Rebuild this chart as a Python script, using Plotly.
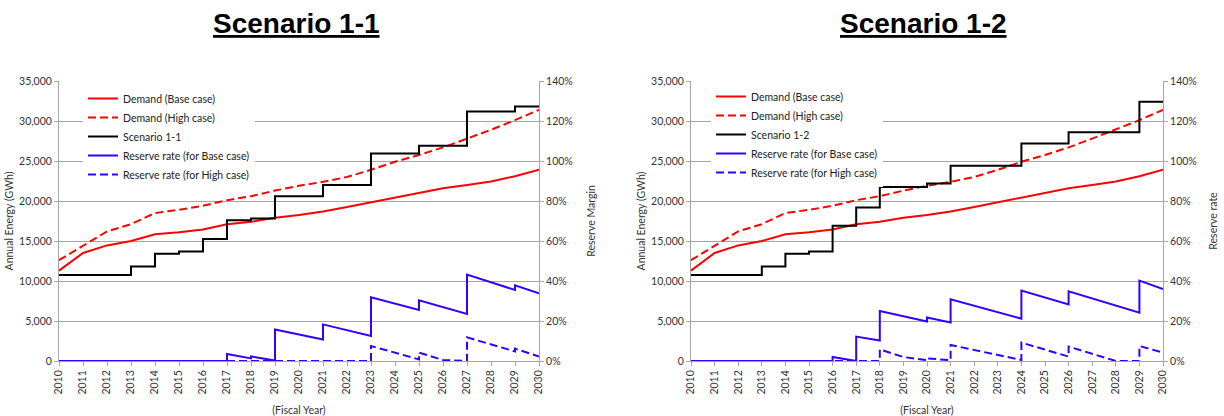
import plotly.graph_objects as go

# ---------------- data ----------------
years = list(range(2010, 2031))
demand_base = [11300, 13500, 14450, 15000, 15850, 16100, 16450, 17100, 17400, 17900, 18250,
               18700, 19250, 19850, 20450, 21050, 21600, 22000, 22450, 23100, 23900]
demand_high = [12600, 14400, 16200, 17100, 18500, 18900, 19400, 20100, 20600, 21300, 21900,
               22400, 23000, 23900, 24900, 25750, 26700, 27800, 28900, 30100, 31400]
scenario_11 = [10750, 10750, 10750, 11800, 13400, 13700, 15250, 17600, 17800, 20600, 20600,
               22000, 22000, 25950, 25950, 26900, 26900, 31200, 31200, 31800, 31800]
scenario_12 = [10750, 10750, 10750, 11800, 13400, 13700, 16900, 19200, 21750, 21750, 22200,
               24400, 24400, 24400, 27200, 27200, 28600, 28600, 28600, 32400, 32400]

# reserve rate (%) - break points (vertical jumps at commissioning years)
res_base_11_x = [2010, 2017, 2017, 2018, 2018, 2019, 2019, 2021, 2021, 2023, 2023, 2025, 2025, 2027, 2027, 2029, 2029, 2030]
res_base_11_y = [0, 0, 3.5, 1.3, 2.3, 0.2, 15.8, 10.8, 18.3, 12.5, 31.8, 25.5, 30.3, 23.5, 43.2, 35.5, 37.8, 33.8]
res_high_11_x = [2010, 2023, 2023, 2025, 2025, 2026, 2027, 2027, 2029, 2029, 2030]
res_high_11_y = [0, 0, 7.5, 0.8, 4.2, 0.5, 0, 11.8, 4.8, 6.2, 2.2]

res_base_12_x = [2010, 2016, 2016, 2017, 2017, 2018, 2018, 2020, 2020, 2021, 2021, 2024, 2024, 2026, 2026, 2029, 2029, 2030]
res_base_12_y = [0, 0, 2.0, 0, 12.2, 10.2, 25.0, 19.7, 21.8, 19.2, 30.8, 21.2, 35.2, 28.3, 34.8, 24.2, 40.2, 36.0]
res_high_12_x = [2010, 2018, 2018, 2019, 2020, 2020, 2021, 2021, 2024, 2024, 2026, 2026, 2028, 2029, 2029, 2030]
res_high_12_y = [0, 0, 5.8, 2.0, 0.4, 1.3, 0.4, 8.0, 0.5, 9.2, 2.2, 7.2, 0, 0, 7.5, 4.2]

titles = ["Scenario 1-1", "Scenario 1-2"]
right_titles = ["Reserve Margin", "Reserve rate"]

# ---------------- style ----------------
FONT = "Lato"
FS = 10.5
RED = "#FF0000"
BLUE = "#3300FF"
GRID = "#A6A6A6"
DASH = "8px,4px"

W, H = 1224, 416
fig = go.Figure()

panels = [
    dict(scen=scenario_11, name=titles[0], rb=(res_base_11_x, res_base_11_y), rh=(res_high_11_x, res_high_11_y),
         xa="x", ya="y", ya2="y2", leg="legend"),
    dict(scen=scenario_12, name=titles[1], rb=(res_base_12_x, res_base_12_y), rh=(res_high_12_x, res_high_12_y),
         xa="x2", ya="y3", ya2="y4", leg="legend2"),
]

for p in panels:
    fig.add_trace(go.Scatter(x=years, y=demand_base, name="Demand (Base case)", mode="lines",
                             line=dict(color=RED, width=2), xaxis=p["xa"], yaxis=p["ya"], legend=p["leg"]))
    fig.add_trace(go.Scatter(x=years, y=demand_high, name="Demand (High case)", mode="lines",
                             line=dict(color=RED, width=2, dash=DASH), xaxis=p["xa"], yaxis=p["ya"], legend=p["leg"]))
    fig.add_trace(go.Scatter(x=years, y=p["scen"], name=p["name"], mode="lines",
                             line=dict(color="black", width=2, shape="hv"), xaxis=p["xa"], yaxis=p["ya"], legend=p["leg"]))
    fig.add_trace(go.Scatter(x=p["rb"][0], y=p["rb"][1], name="Reserve rate (for Base case)", mode="lines",
                             line=dict(color=BLUE, width=2), xaxis=p["xa"], yaxis=p["ya2"], legend=p["leg"]))
    fig.add_trace(go.Scatter(x=p["rh"][0], y=p["rh"][1], name="Reserve rate (for High case)", mode="lines",
                             line=dict(color=BLUE, width=2, dash=DASH), xaxis=p["xa"], yaxis=p["ya2"], legend=p["leg"]))

tickfont = dict(family=FONT, size=FS, color="#333333")
ydom = [55 / H, 335 / H]
xdoms = [[59 / W, 539 / W], [691 / W, 1163 / W]]

common_x = dict(range=[2010, 2030], tickmode="array", tickvals=years, ticktext=[str(y) for y in years],
                tickangle=-90, tickfont=tickfont, showline=True, linecolor=GRID, linewidth=1,
                ticks="outside", ticklen=4, tickcolor=GRID, showgrid=False, zeroline=False,
                title=dict(text="(Fiscal Year)", font=dict(family=FONT, size=FS, color="#333333"), standoff=14))
common_y = dict(range=[0, 35000], dtick=5000, tickformat=",d", tickfont=tickfont, showline=True,
                linecolor=GRID, linewidth=1, ticks="outside", ticklen=4, tickcolor=GRID,
                showgrid=True, gridcolor=GRID, gridwidth=1, zeroline=False,
                title=dict(text="Annual Energy (GWh)", font=dict(family=FONT, size=FS, color="#333333"), standoff=3))
common_y2 = dict(range=[0, 140], dtick=20, ticksuffix="%", tickfont=tickfont, showline=True,
                 linecolor=GRID, linewidth=1, ticks="outside", ticklen=4, tickcolor=GRID,
                 showgrid=False, zeroline=False, side="right")

fig.update_layout(
    width=W, height=H,
    margin=dict(l=0, r=0, t=0, b=0, autoexpand=False),
    paper_bgcolor="white", plot_bgcolor="white",
    font=dict(family=FONT, size=FS, color="#333333"),
    xaxis=dict(domain=xdoms[0], anchor="y", **common_x),
    xaxis2=dict(domain=xdoms[1], anchor="y3", **common_x),
    yaxis=dict(domain=ydom, anchor="x", **common_y),
    yaxis2=dict(overlaying="y", anchor="x",
                title=dict(text=right_titles[0], font=dict(family=FONT, size=FS, color="#333333"), standoff=15),
                **common_y2),
    yaxis3=dict(domain=ydom, anchor="x2", **common_y),
    yaxis4=dict(overlaying="y3", anchor="x2",
                title=dict(text=right_titles[1], font=dict(family=FONT, size=FS, color="#333333"), standoff=13),
                **common_y2),
    legend=dict(x=83 / W, y=1 - 84 / H, xanchor="left", yanchor="top", bgcolor="white",
                font=dict(family=FONT, size=FS, color="#222222"), tracegroupgap=0),
    legend2=dict(x=711 / W, y=1 - 82 / H, xanchor="left", yanchor="top", bgcolor="white",
                 font=dict(family=FONT, size=FS, color="#222222"), tracegroupgap=0),
    showlegend=True,
)

for t, cx in zip(titles, [296, 923]):
    fig.add_annotation(text=f"<b><u>{t}</u></b>", xref="paper", yref="paper", x=cx / W, y=1 - 6 / H,
                       xanchor="center", yanchor="top", showarrow=False,
                       font=dict(family="Liberation Sans", size=28, color="black"))

fig.write_html("out.html", config={"displayModeBar": False},
               post_script="document.body.style.margin='0';document.body.style.padding='0';")
